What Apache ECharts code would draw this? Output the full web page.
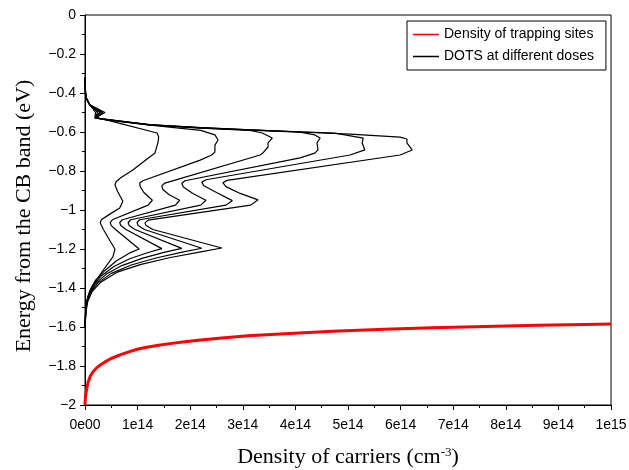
<!DOCTYPE html>
<html>
<head>
<meta charset="utf-8">
<script src="https://cdn.jsdelivr.net/npm/echarts@6/dist/echarts.min.js"></script>
<style>
  html, body { margin: 0; padding: 0; background: #fff; }
  #chart { width: 629px; height: 470px; }
</style>
</head>
<body>
<div id="chart"></div>
<script>
// Densities are given in units of 1e14 cm^-3, energies in eV below the CB edge.

// Density of trapping sites: [density, energy]
const trapSites = [
  [0, -2.0], [0.002, -1.985], [0.008, -1.96], [0.02, -1.938], [0.04, -1.905],
  [0.06, -1.882], [0.1, -1.852], [0.15, -1.831], [0.22, -1.81], [0.29, -1.795],
  [0.38, -1.779], [0.48, -1.764], [0.6, -1.75], [0.72, -1.738], [0.86, -1.725],
  [1.01, -1.713], [1.2, -1.703], [1.43, -1.692], [1.65, -1.684], [1.90, -1.676],
  [2.2, -1.667], [2.6, -1.656], [3.1, -1.645], [3.8, -1.634], [4.7, -1.622],
  [5.7, -1.612], [6.6, -1.604], [7.6, -1.597], [8.6, -1.591], [9.5, -1.587],
  [10, -1.585]
];

// Density of occupied trapping sites (DOTS) for six doses: [density, energy]
const dots1 = [
  [0, -0.32], [0.01, -0.40], [0.03, -0.43], [0.09, -0.46], [0.20, -0.50], [0.19, -0.525],
  [0.44, -0.540], [1.37, -0.605], [1.40, -0.625], [1.39, -0.651], [1.36, -0.68], [1.33, -0.708],
  [1.10, -0.755], [0.91, -0.795], [0.68, -0.835], [0.59, -0.855], [0.57, -0.872], [0.62, -0.905],
  [0.72, -0.955], [0.66, -0.99], [0.45, -1.025], [0.31, -1.05], [0.29, -1.067], [0.35, -1.10],
  [0.48, -1.16], [0.57, -1.2], [0.53, -1.24], [0.32, -1.318], [0.13, -1.395], [0.04, -1.46],
  [0.01, -1.53], [0, -1.6]
];
const dots2 = [
  [0, -0.32], [0.01, -0.40], [0.03, -0.43], [0.09, -0.46], [0.24, -0.50], [0.19, -0.526],
  [0.44, -0.539], [1.24, -0.565], [2.2, -0.592], [2.47, -0.615], [2.53, -0.641], [2.47, -0.667],
  [2.47, -0.703], [2.41, -0.718], [2.19, -0.744], [1.10, -0.850], [1.04, -0.862], [1.05, -0.88],
  [1.12, -0.91], [1.28, -0.95], [1.2, -0.975], [0.52, -1.050], [0.48, -1.065], [0.50, -1.08],
  [0.58, -1.10], [1.03, -1.2], [0.85, -1.22], [0.6, -1.26], [0.38, -1.31], [0.2, -1.36],
  [0.09, -1.415], [0.035, -1.465], [0.01, -1.53], [0, -1.6]
];
const dots3 = [
  [0, -0.32], [0.01, -0.40], [0.03, -0.43], [0.09, -0.46], [0.28, -0.50], [0.19, -0.527],
  [0.44, -0.538], [1.24, -0.564], [2.19, -0.580], [3.14, -0.592], [3.37, -0.605], [3.56, -0.631],
  [3.48, -0.656], [3.48, -0.677], [3.38, -0.708], [3.33, -0.718], [1.52, -0.862], [1.46, -0.875],
  [1.48, -0.895], [1.6, -0.922], [1.80, -0.95], [1.72, -0.975], [0.71, -1.050], [0.66, -1.064],
  [0.68, -1.08], [0.78, -1.10], [1.46, -1.198], [1.2, -1.218], [0.85, -1.25], [0.55, -1.29],
  [0.3, -1.34], [0.14, -1.39], [0.06, -1.44], [0.02, -1.5], [0, -1.6]
];
const dots4 = [
  [0, -0.32], [0.01, -0.40], [0.03, -0.43], [0.09, -0.46], [0.31, -0.50], [0.19, -0.528],
  [0.44, -0.538], [1.24, -0.563], [2.19, -0.579], [3.14, -0.590], [4.09, -0.601], [4.37, -0.615],
  [4.47, -0.631], [4.41, -0.656], [4.43, -0.692], [4.37, -0.708], [4.09, -0.733], [1.90, -0.850],
  [1.84, -0.864], [1.87, -0.882], [2.05, -0.915], [2.30, -0.95], [2.2, -0.975], [0.87, -1.050],
  [0.82, -1.064], [0.84, -1.08], [0.95, -1.10], [1.84, -1.197], [1.5, -1.217], [1.1, -1.247],
  [0.7, -1.285], [0.4, -1.33], [0.19, -1.38], [0.08, -1.43], [0.025, -1.49], [0, -1.6]
];
const dots5 = [
  [0, -0.32], [0.01, -0.40], [0.03, -0.43], [0.09, -0.46], [0.34, -0.50], [0.19, -0.528],
  [0.44, -0.537], [1.24, -0.563], [2.19, -0.578], [3.14, -0.589], [4.09, -0.599], [4.75, -0.606],
  [5.29, -0.631], [5.27, -0.656], [5.32, -0.692], [5.04, -0.718], [2.30, -0.845], [2.22, -0.857],
  [2.26, -0.876], [2.5, -0.91], [2.80, -0.952], [2.68, -0.975], [1.04, -1.050], [0.99, -1.064],
  [1.01, -1.08], [1.13, -1.10], [2.22, -1.196], [1.85, -1.216], [1.35, -1.246], [0.88, -1.282],
  [0.5, -1.325], [0.24, -1.375], [0.1, -1.425], [0.035, -1.48], [0.01, -1.54], [0, -1.6]
];
const dots6 = [
  [0, -0.32], [0.01, -0.40], [0.03, -0.43], [0.09, -0.46], [0.38, -0.50], [0.19, -0.529],
  [0.44, -0.537], [1.24, -0.562], [2.19, -0.578], [3.14, -0.589], [4.09, -0.600], [5.04, -0.611],
  [5.99, -0.626], [6.12, -0.636], [6.12, -0.656], [6.22, -0.692], [5.99, -0.718], [2.70, -0.848],
  [2.62, -0.860], [2.68, -0.88], [2.95, -0.915], [3.29, -0.948], [3.15, -0.975], [1.20, -1.052],
  [1.14, -1.066], [1.16, -1.08], [1.29, -1.10], [2.60, -1.195], [2.2, -1.215], [1.6, -1.245],
  [1.05, -1.28], [0.6, -1.32], [0.3, -1.37], [0.13, -1.42], [0.05, -1.47], [0.015, -1.53],
  [0, -1.6]
];
const dotsCurves = [dots1, dots2, dots3, dots4, dots5, dots6];

const trapName = 'Density of trapping sites';
const dotsName = 'DOTS at different doses';

const sans = 'Liberation Sans, Arial, sans-serif';
const serif = 'Liberation Serif, Times New Roman, serif';

const chart = echarts.init(document.getElementById('chart'), null, { renderer: 'canvas' });

const series = [{
  name: trapName,
  type: 'line',
  data: trapSites,
  symbol: 'none',
  lineStyle: { color: '#ff0000', width: 3, join: 'round' },
  itemStyle: { color: '#ff0000' },
  z: 3
}];
dotsCurves.forEach(function (curve) {
  series.push({
    name: dotsName,
    type: 'line',
    data: curve,
    symbol: 'none',
    lineStyle: { color: '#000', width: 1.2 },
    itemStyle: { color: '#000' },
    z: 2
  });
});

function yLabel(v) {
  const s = String(Math.round(Math.abs(v) * 10) / 10);
  return v < 0 ? '\u2212' + s : s;
}
function xLabel(v) {
  if (v === 0) return '0e00';
  if (v === 10) return '1e15';
  return Math.round(v) + 'e14';
}

chart.setOption({
  animation: false,
  backgroundColor: '#fff',
  grid: {
    left: 85, right: 18, top: 15, bottom: 65,
    outerBoundsMode: 'none',
    containLabel: false,
    show: true, borderColor: '#000', borderWidth: 1, backgroundColor: 'transparent'
  },
  legend: {
    data: [trapName, dotsName],
    orient: 'vertical',
    left: 407, top: 21,
    icon: 'rect',
    itemWidth: 26, itemHeight: 1.5, itemGap: 5,
    padding: [5, 12, 5, 6],
    backgroundColor: '#fff',
    borderColor: '#000', borderWidth: 1, borderRadius: 0,
    textStyle: { fontFamily: sans, fontSize: 14, color: '#000', lineHeight: 17 }
  },
  xAxis: {
    type: 'value',
    min: 0, max: 10, interval: 1,
    name: 'Density of carriers (cm{sup|-3})',
    nameLocation: 'middle',
    nameGap: 41,
    nameTextStyle: {
      fontFamily: serif, fontSize: 22, color: '#000',
      rich: { sup: { fontFamily: serif, fontSize: 13, verticalAlign: 'top', color: '#000' } }
    },
    axisLine: { onZero: false, lineStyle: { color: '#000', width: 1 } },
    axisTick: { inside: false, length: 5, lineStyle: { color: '#000' } },
    minorTick: { show: true, splitNumber: 2, length: 3, lineStyle: { color: '#000' } },
    splitLine: { show: false },
    axisLabel: { formatter: xLabel, fontFamily: sans, fontSize: 14, color: '#000', margin: 13 }
  },
  yAxis: {
    type: 'value',
    min: -2, max: 0, interval: 0.2,
    name: 'Energy from the CB band (eV)',
    nameLocation: 'middle',
    nameGap: 50,
    nameTextStyle: { fontFamily: serif, fontSize: 22, color: '#000', padding: [0, 12, 0, 0] },
    axisLine: { onZero: false, lineStyle: { color: '#000', width: 1 } },
    axisTick: { inside: false, length: 5, lineStyle: { color: '#000' } },
    minorTick: { show: true, splitNumber: 2, length: 3, lineStyle: { color: '#000' } },
    splitLine: { show: false },
    axisLabel: { formatter: yLabel, fontFamily: sans, fontSize: 14, color: '#000', margin: 9 }
  },
  series: series
});
</script>
</body>
</html>
